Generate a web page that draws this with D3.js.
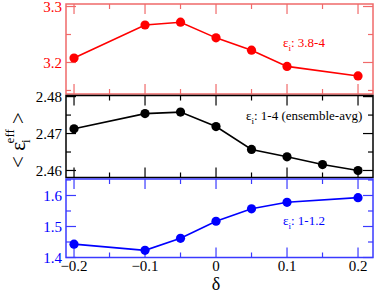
<!DOCTYPE html>
<html>
<head>
<meta charset="utf-8">
<script src="https://cdn.jsdelivr.net/npm/d3@7"></script>
<style>
  body { margin: 0; background: #fff; }
</style>
</head>
<body>
<svg id="chart" width="374" height="293"></svg>
<script>
// shared x values (delta)
const deltaRed = [-0.2, -0.1, -0.05, 0, 0.05, 0.1, 0.2];
const deltaBlack = [-0.2, -0.1, -0.05, 0, 0.05, 0.1, 0.15, 0.2];
const deltaBlue = [-0.2, -0.1, -0.05, 0, 0.05, 0.1, 0.2];

// <eps_i^eff> values per panel
const epsRed = [3.208, 3.267, 3.272, 3.244, 3.222, 3.193, 3.176];
const epsBlack = [2.4713, 2.4754, 2.4758, 2.4719, 2.4657, 2.4637, 2.4616, 2.4600];
const epsBlue = [1.443, 1.423, 1.462, 1.517, 1.557, 1.578, 1.593];

const xTicks = [-0.2, -0.1, 0, 0.1, 0.2];
const redTicks = [3.2, 3.3];
const blackTicks = [2.46, 2.47, 2.48];
const blueTicks = [1.4, 1.5, 1.6];

const labels = ["3.8-4", "1-4 (ensemble-avg)", "1-1.2"];

const FONT = "'Liberation Serif', 'Times New Roman', 'DejaVu Serif', 'Noto Serif', serif";
const svg = d3.select("#chart");

const x = d3.scaleLinear().domain([-0.2113, 0.2211]).range([66, 373]);

const panels = [
    {xs: deltaRed, ys: epsRed, ticks: redTicks, minor: 0.05, dom: [3.1437, 3.3045], top: 4, bot: 94,
     line: "#ff0000", frame: "#f06a6a", text: "#ff0000", label: labels[0], lx: 283, ly: 47},
    {xs: deltaBlack, ys: epsBlack, ticks: blackTicks, minor: 0.005, dom: [2.4581, 2.4803], top: 95.5, bot: 177.5,
     line: "#000000", frame: "#000000", text: "#000000", label: labels[1], lx: 246, ly: 120},
    {xs: deltaBlue, ys: epsBlue, ticks: blueTicks, minor: 0.05, dom: [1.4, 1.6532], top: 179, bot: 257.5,
     line: "#0000ff", frame: "#3a3aff", text: "#0000ff", label: labels[2], lx: 283, ly: 225}
];

panels.forEach((p, k) => {
    const y = d3.scaleLinear().domain(p.dom).range([p.bot, p.top]);
    const g = svg.append("g");

    // x ticks, top and bottom, pointing inward
    const xMinor = d3.range(-0.2, 0.2001, 0.05).map(v => +v.toFixed(2));
    xMinor.forEach(v => {
        const major = Math.abs(Math.round(v * 10) - v * 10) < 1e-6;
        const len = major ? 10 : 5;
        g.append("line").attr("x1", x(v)).attr("x2", x(v))
            .attr("y1", p.bot).attr("y2", p.bot - len)
            .attr("stroke", p.frame).attr("stroke-width", 1.2);
        g.append("line").attr("x1", x(v)).attr("x2", x(v))
            .attr("y1", p.top).attr("y2", p.top + len)
            .attr("stroke", p.frame).attr("stroke-width", 1.2);
    });

    // y ticks, left and right
    const lo = Math.ceil(p.dom[0] / p.minor - 1e-6), hi = Math.floor(p.dom[1] / p.minor + 1e-6);
    for (let i = lo; i <= hi; i++) {
        const v = i * p.minor;
        const major = p.ticks.some(t => Math.abs(t - v) < 1e-6);
        const len = major ? 10 : 5;
        g.append("line").attr("x1", x.range()[0]).attr("x2", x.range()[0] + len)
            .attr("y1", y(v)).attr("y2", y(v))
            .attr("stroke", p.frame).attr("stroke-width", 1.2);
        g.append("line").attr("x1", x.range()[1]).attr("x2", x.range()[1] - len)
            .attr("y1", y(v)).attr("y2", y(v))
            .attr("stroke", p.frame).attr("stroke-width", 1.2);
    }

    // frame
    g.append("rect")
        .attr("x", x.range()[0]).attr("y", p.top)
        .attr("width", x.range()[1] - x.range()[0]).attr("height", p.bot - p.top)
        .attr("fill", "none").attr("stroke", p.frame).attr("stroke-width", 1.5);

    // y tick labels
    g.selectAll("text.yt").data(p.ticks).join("text")
        .style("font-family", FONT)
        .attr("x", 62).attr("y", d => y(d)).attr("dy", "0.35em")
        .attr("text-anchor", "end").attr("font-size", 15).attr("fill", p.text)
        .text(d => d3.format(k == 1 ? ".2f" : ".1f")(d));

    // data line and markers
    const pts = p.xs.map((d, i) => [d, p.ys[i]]);
    g.append("path").datum(pts)
        .attr("d", d3.line().x(d => x(d[0])).y(d => y(d[1])))
        .attr("fill", "none").attr("stroke", p.line).attr("stroke-width", 1.6);
    g.selectAll("circle").data(pts).join("circle")
        .attr("cx", d => x(d[0])).attr("cy", d => y(d[1])).attr("r", 4.6)
        .attr("fill", p.line);

    // annotation
    const t = g.append("text").style("font-family", FONT)
        .attr("x", p.lx).attr("y", p.ly)
        .attr("font-size", 13).attr("fill", p.text);
    t.append("tspan").text("ε");
    t.append("tspan").attr("font-size", 9).attr("dy", 4).text("i");
    t.append("tspan").attr("dy", -4).text(": " + p.label);
});

// x tick labels
svg.selectAll("text.xt").data(xTicks).join("text")
    .style("font-family", FONT)
    .attr("x", d => x(d)).attr("y", 271)
    .attr("text-anchor", "middle").attr("font-size", 15)
    .text(d => d3.format(".1f")(d).replace("0.0", "0"));

// x axis title
svg.append("text").style("font-family", FONT)
    .attr("x", x(0)).attr("y", 290)
    .attr("text-anchor", "middle").attr("font-size", 18).text("δ");

// y axis title
const yt = svg.append("text").style("font-family", FONT)
    .attr("transform", "translate(25,140) rotate(-90)")
    .attr("text-anchor", "middle").attr("font-size", 21);
yt.append("tspan").text("< ε");
yt.append("tspan").attr("font-size", 13).attr("dy", 5).attr("dx", -1).text("i");
yt.append("tspan").attr("font-size", 13).attr("dy", -16).attr("dx", -4).text("eff");
yt.append("tspan").attr("dy", 11).text(" >");
</script>
</body>
</html>
